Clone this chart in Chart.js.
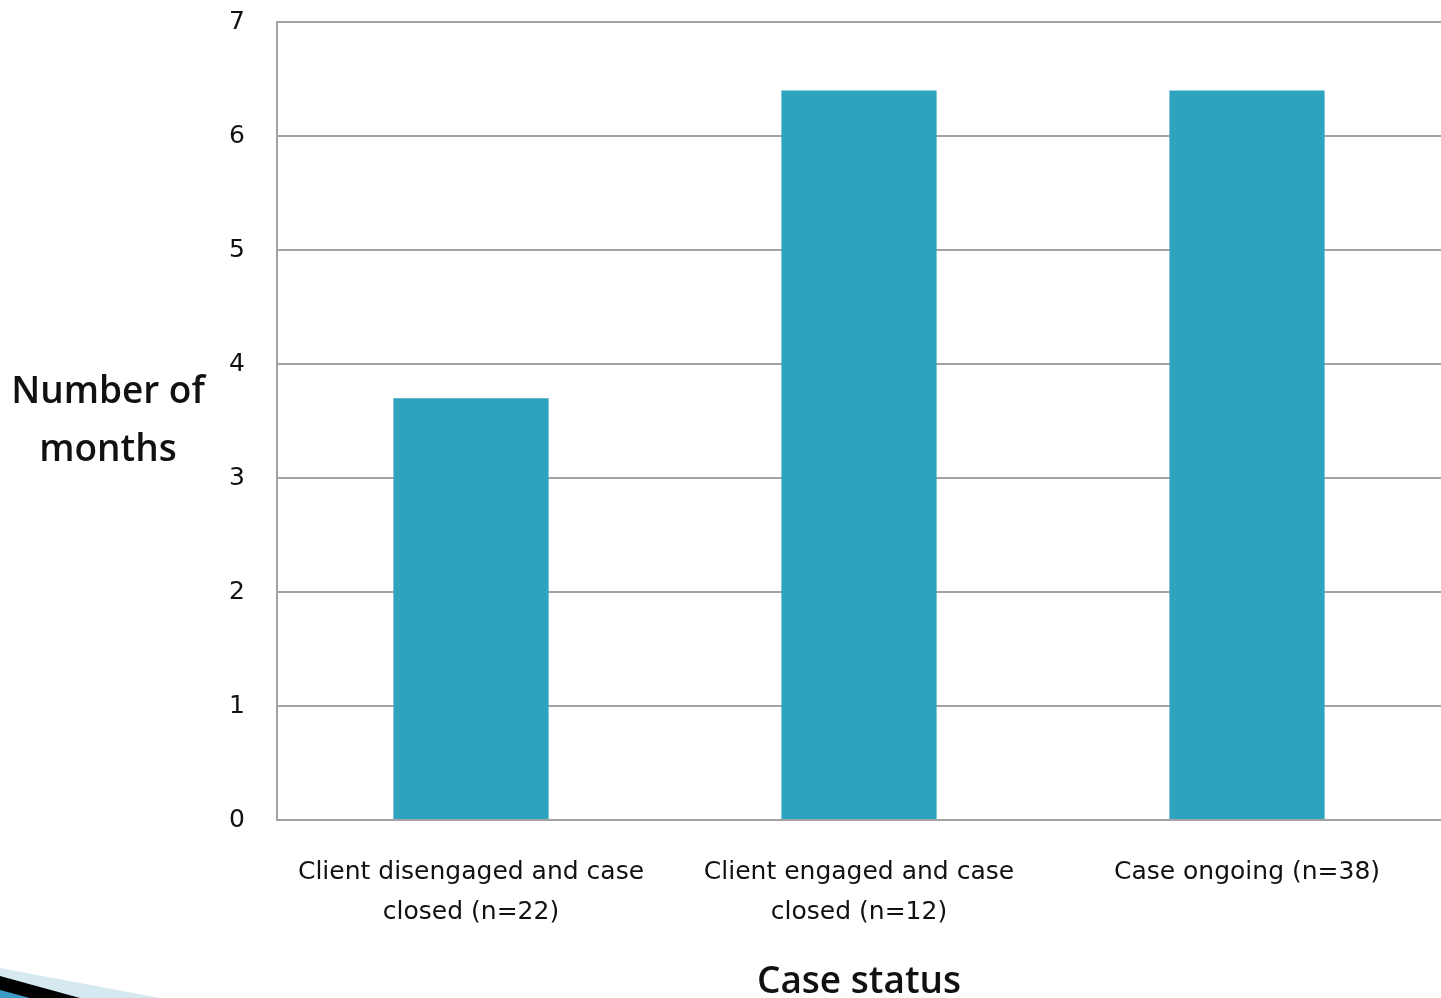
<!DOCTYPE html>
<html>
<head>
<meta charset="utf-8">
<title>Number of months by case status</title>
<script src="https://cdn.jsdelivr.net/npm/chart.js@4/dist/chart.umd.min.js"></script>
<style>
  html, body { margin: 0; padding: 0; background: #ffffff; }
  #wrap { position: relative; width: 1441px; height: 998px; overflow: hidden; }
  canvas { display: block; }
</style>
</head>
<body>
<div id="wrap"><canvas id="chart" width="1441" height="998"></canvas></div>
<script>
// Categories (each label split into its display lines)
const categories = [
  ['Client disengaged and case', 'closed (n=22)'],
  ['Client engaged and case', 'closed (n=12)'],
  ['Case ongoing (n=38)']
];
// Average number of months per case status
const months = [3.7, 6.4, 6.4];
// Axis range and titles
const yTicks = [0, 1, 2, 3, 4, 5, 6, 7];
const yTitleLines = ['Number of', 'months'];
const xTitle = 'Case status';

const BAR_COLOR = '#2ea3bf';
const GRID_COLOR = '#a3a3a3';
const TEXT_COLOR = '#111111';

// Horizontal y-axis title drawn beside the tick labels
const yTitlePlugin = {
  id: 'yTitleHorizontal',
  afterDraw(chart) {
    const ctx = chart.ctx;
    const area = chart.chartArea;
    const mid = (area.top + area.bottom) / 2;
    const lh = 58;
    ctx.save();
    ctx.font = '600 37px "Open Sans", sans-serif';
    ctx.fillStyle = TEXT_COLOR;
    ctx.textAlign = 'center';
    ctx.textBaseline = 'middle';
    yTitleLines.forEach((line, i) => {
      const y = mid + (i - (yTitleLines.length - 1) / 2) * lh;
      ctx.fillText(line, 108, y);
    });
    ctx.restore();
  }
};

// Decorative swoosh in the lower-left corner of the slide
const cornerPlugin = {
  id: 'cornerSwoosh',
  afterDraw(chart) {
    const ctx = chart.ctx;
    const h = chart.height;
    ctx.save();
    ctx.fillStyle = '#d6e9f1';
    ctx.beginPath();
    ctx.moveTo(0, h - 30); ctx.lineTo(160, h); ctx.lineTo(0, h); ctx.closePath();
    ctx.fill();
    ctx.fillStyle = '#000000';
    ctx.beginPath();
    ctx.moveTo(0, h - 22); ctx.lineTo(80, h); ctx.lineTo(0, h); ctx.closePath();
    ctx.fill();
    ctx.fillStyle = '#3a9cc4';
    ctx.beginPath();
    ctx.moveTo(0, h - 8); ctx.lineTo(30, h); ctx.lineTo(0, h); ctx.closePath();
    ctx.fill();
    ctx.restore();
  }
};

new Chart(document.getElementById('chart'), {
  type: 'bar',
  data: {
    labels: categories,
    datasets: [{
      data: months,
      backgroundColor: BAR_COLOR,
      borderWidth: 0,
      barPercentage: 0.4,
      categoryPercentage: 1.0
    }]
  },
  options: {
    responsive: false,
    animation: false,
    layout: { padding: { top: 22, right: 0, bottom: 0, left: 0 } },
    plugins: {
      legend: { display: false },
      tooltip: { enabled: false },
      title: { display: false }
    },
    scales: {
      x: {
        grid: { display: false, drawTicks: false },
        border: { display: true, color: GRID_COLOR, width: 2 },
        ticks: {
          color: TEXT_COLOR,
          font: { family: '"DejaVu Sans", sans-serif', size: 25, lineHeight: 1.6 },
          padding: 32,
          maxRotation: 0,
          autoSkip: false
        },
        title: {
          display: true,
          text: xTitle,
          color: TEXT_COLOR,
          font: { family: '"Open Sans", sans-serif', size: 37, weight: '600', lineHeight: 1 },
          padding: { top: 0, bottom: -3 }
        },
        afterFit(scale) {
          scale.height = 178;
          scale.paddingLeft = 0;
          scale.paddingRight = 0;
        }
      },
      y: {
        min: yTicks[0],
        max: yTicks[yTicks.length - 1],
        afterBuildTicks(scale) { scale.ticks = yTicks.map(v => ({ value: v })); },
        grid: { color: GRID_COLOR, lineWidth: 2, drawTicks: false },
        border: { display: true, color: GRID_COLOR, width: 2 },
        ticks: {
          color: TEXT_COLOR,
          font: { family: '"DejaVu Sans", sans-serif', size: 25 },
          padding: 32
        },
        afterFit(scale) {
          scale.width = 277;
          scale.paddingTop = 0;
          scale.paddingBottom = 0;
        }
      }
    }
  },
  plugins: [yTitlePlugin, cornerPlugin]
});
</script>
</body>
</html>
